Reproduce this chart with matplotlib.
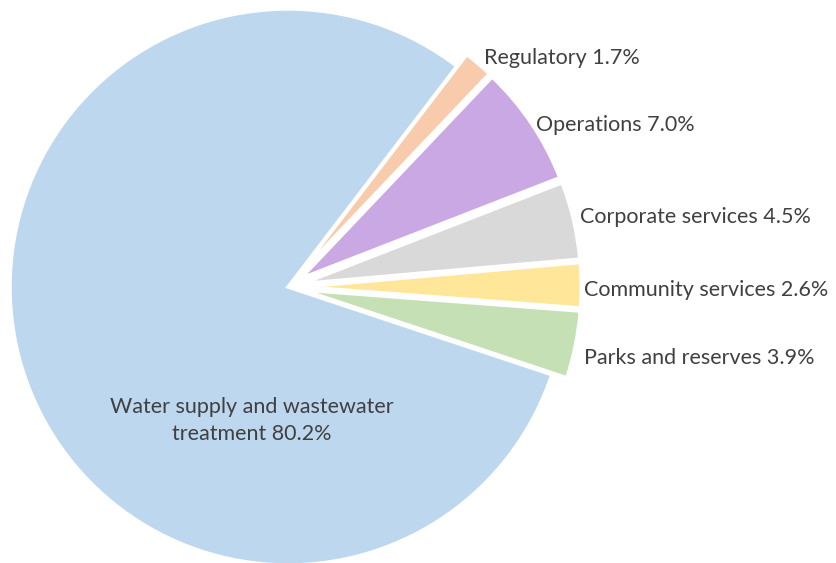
import numpy as np
import matplotlib.pyplot as plt

# Data (clockwise from the top-right edge of the big slice)
CATEGORIES = ['Regulatory', 'Operations', 'Corporate services',
              'Community services', 'Parks and reserves',
              'Water supply and wastewater\ntreatment']
SHARES = [1.7, 7.0, 4.5, 2.6, 3.9, 80.2]
COLORS = ['#F8CBAD', '#C9A8E4', '#D9D9D9', '#FFE699', '#C5E0B4', '#BDD7EE']
EXPLODE = [0.055, 0.055, 0.055, 0.055, 0.055, 0.0]
# small nudges of the outside labels (pixels)
LABEL_NUDGE = [(0, 0), (-2, -6), (-2, 1), (-6, -5), (0, -12)]

TEXT_COLOR = '#404040'
plt.rcParams['font.family'] = ['Lato', 'DejaVu Sans']

fig = plt.figure(figsize=(8.37, 5.63), dpi=100)
ax = fig.add_axes([0, 0, 1, 1])

labels = [f'{c} {v:.1f}%' for c, v in zip(CATEGORIES, SHARES)]
wedges, _ = ax.pie(SHARES, colors=COLORS, explode=EXPLODE,
                   startangle=52.6, counterclock=False, radius=1.0,
                   wedgeprops=dict(edgecolor='white', linewidth=2.5))

# pie centre at pixel (288, 287) with radius 278 px
R_PX = 278.0
cx, cy = 288.0, 563 - 287.0
ax.set_xlim(-cx / R_PX, (837 - cx) / R_PX)
ax.set_ylim(-cy / R_PX, (563 - cy) / R_PX)
ax.set_aspect('equal')
ax.axis('off')

# outside labels for the small slices
for i, w in enumerate(wedges[:-1]):
    mid = np.deg2rad((w.theta1 + w.theta2) / 2)
    r = 1.085
    ax.annotate(labels[i], xy=(r * np.cos(mid), r * np.sin(mid)),
                xytext=LABEL_NUDGE[i], textcoords='offset pixels',
                ha='left', va='center', fontsize=15.5, color=TEXT_COLOR)

# label inside the big slice
ax.text(-0.13, -0.48, labels[-1], ha='center', va='center',
        fontsize=15.5, color=TEXT_COLOR, linespacing=1.4)

fig.savefig('out.png', dpi=100)
